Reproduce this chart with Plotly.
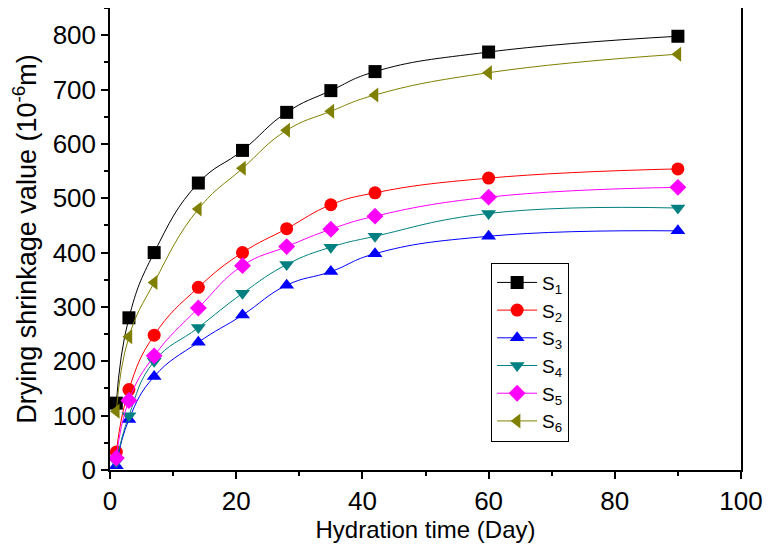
import plotly.graph_objects as go

days = [1, 3, 7, 14, 21, 28, 35, 42, 60, 90]
s1 = [123, 280, 400, 528, 588, 658, 698, 733, 769, 798]
s2 = [33, 148, 248, 336, 400, 444, 488, 510, 537, 554]
s3 = [8, 93, 172, 235, 285, 340, 365, 398, 430, 440]
s4 = [15, 100, 200, 262, 325, 378, 410, 430, 472, 482]
s5 = [22, 128, 210, 298, 376, 411, 443, 467, 502, 520]
s6 = [108, 245, 345, 480, 555, 625, 660, 690, 731, 765]

series = [
    ("S<sub>1</sub>", s1, "black", "square"),
    ("S<sub>2</sub>", s2, "red", "circle"),
    ("S<sub>3</sub>", s3, "blue", "triangle-up"),
    ("S<sub>4</sub>", s4, "#008080", "triangle-down"),
    ("S<sub>5</sub>", s5, "magenta", "diamond"),
    ("S<sub>6</sub>", s6, "#808000", "triangle-left"),
]

fig = go.Figure()
for name, vals, color, sym in series:
    fig.add_trace(go.Scatter(
        x=days, y=vals, name=name, mode="lines+markers",
        line=dict(color=color, width=1, shape="spline", smoothing=1.3),
        marker=dict(symbol=sym, size=13, color=color),
    ))

axis_common = dict(
    showline=True, linecolor="black", linewidth=1.5, mirror=True,
    ticks="outside", ticklen=7, tickwidth=1.5, tickcolor="black",
    showgrid=False, zeroline=False,
    tickfont=dict(family="Liberation Sans, Arial", size=26, color="black"),
)

fig.update_xaxes(range=[0, 100], dtick=20,
                 minor=dict(dtick=10, ticks="outside", ticklen=4, tickcolor="black"),
                 title=dict(text="Hydration time (Day)", font=dict(size=24), standoff=3),
                 **axis_common)
fig.update_yaxes(range=[0, 850], dtick=100,
                 minor=dict(dtick=50, ticks="outside", ticklen=4, tickcolor="black"),
                 title=dict(text="Drying shrinkage value (10<sup>-6</sup>m)", font=dict(size=27), standoff=22),
                 **axis_common)

# page body has an 8px margin, so the plot box is shifted to line up
fig.update_layout(
    width=772, height=559,
    margin=dict(l=102, r=39, t=0, b=97, autoexpand=False),
    paper_bgcolor="white", plot_bgcolor="white",
    font=dict(family="Liberation Sans, Arial", color="black"),
    legend=dict(x=0.604, y=0.449, xanchor="left", yanchor="top",
                bordercolor="black", borderwidth=1, bgcolor="white",
                font=dict(size=19), tracegroupgap=0, itemwidth=40),
)

fig.write_html("out.html")
